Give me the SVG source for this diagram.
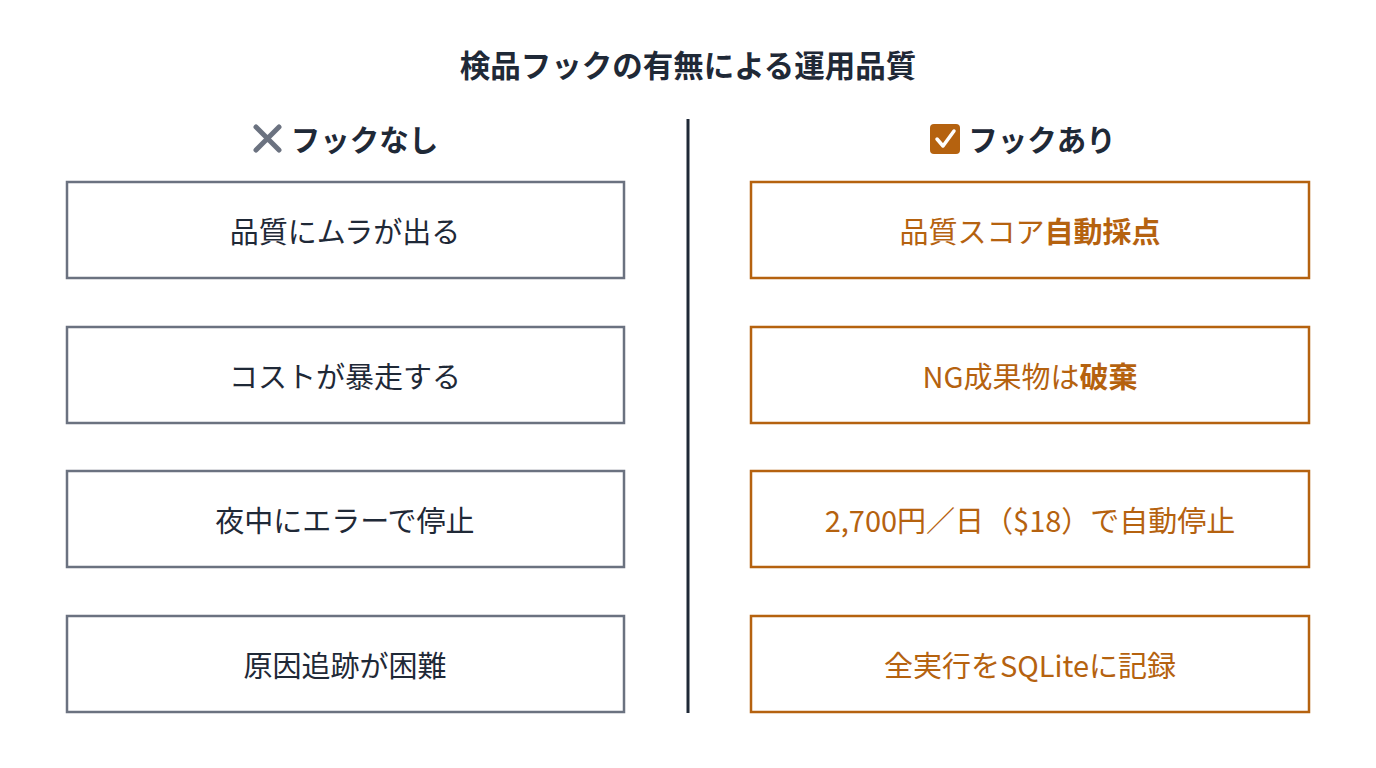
<svg xmlns="http://www.w3.org/2000/svg" width="1376" height="768" viewBox="0 0 1376 768">
<style>
text{font-family:"Noto Sans CJK JP","Noto Sans",sans-serif;text-anchor:middle;dominant-baseline:central}
.title{font-size:30.5px;font-weight:700;fill:#1f2937}
.head{font-size:29.5px;font-weight:700;fill:#1f2937}
.bad rect{fill:#fff;stroke:#6b7280;stroke-width:2.5}
.bad text{font-size:29px;fill:#1f2937}
.good rect{fill:#fff;stroke:#b5620f;stroke-width:2.5}
.good text{font-size:29px;fill:#b5620f}
.b{font-weight:700}
</style>
<rect width="1376" height="768" fill="#fff"/>
<text class="title" x="688" y="64">検品フックの有無による運用品質</text>
<g id="head-left">
<path d="M256 127 L279 150 M279 127 L256 150" stroke="#6b7280" stroke-width="5" stroke-linecap="round"/>
<text class="head" x="364.5" y="137.5">フックなし</text>
</g>
<g id="head-right">
<rect x="930" y="124" width="30" height="30" rx="4" fill="#b5620f"/>
<path d="M937 139 L943 146 L954 131" fill="none" stroke="#fff" stroke-width="3.5" stroke-linecap="round" stroke-linejoin="round"/>
<text class="head" x="1042" y="137.5">フックあり</text>
</g>
<g id="connectors">
<line x1="688" y1="119" x2="688" y2="713" stroke="#1f2937" stroke-width="3"/>
</g>
<g id="bad1" class="bad"><rect x="67" y="182" width="557" height="96"/><text x="345" y="229.5">品質にムラが出る</text></g>
<g id="bad2" class="bad"><rect x="67" y="327" width="557" height="96"/><text x="345" y="374.5">コストが暴走する</text></g>
<g id="bad3" class="bad"><rect x="67" y="471" width="557" height="96"/><text x="345" y="518.5">夜中にエラーで停止</text></g>
<g id="bad4" class="bad"><rect x="67" y="616" width="557" height="96"/><text x="345" y="663.5">原因追跡が困難</text></g>
<g id="good1" class="good"><rect x="751" y="182" width="558" height="96"/><text x="1030" y="229.5">品質スコア<tspan class="b">自動採点</tspan></text></g>
<g id="good2" class="good"><rect x="751" y="327" width="558" height="96"/><text x="1030" y="374.5">NG成果物は<tspan class="b">破棄</tspan></text></g>
<g id="good3" class="good"><rect x="751" y="471" width="558" height="96"/><text x="1030" y="518.5">2,700円／日（$18）で自動停止</text></g>
<g id="good4" class="good"><rect x="751" y="616" width="558" height="96"/><text x="1030" y="663.5">全実行をSQLiteに記録</text></g>
</svg>
